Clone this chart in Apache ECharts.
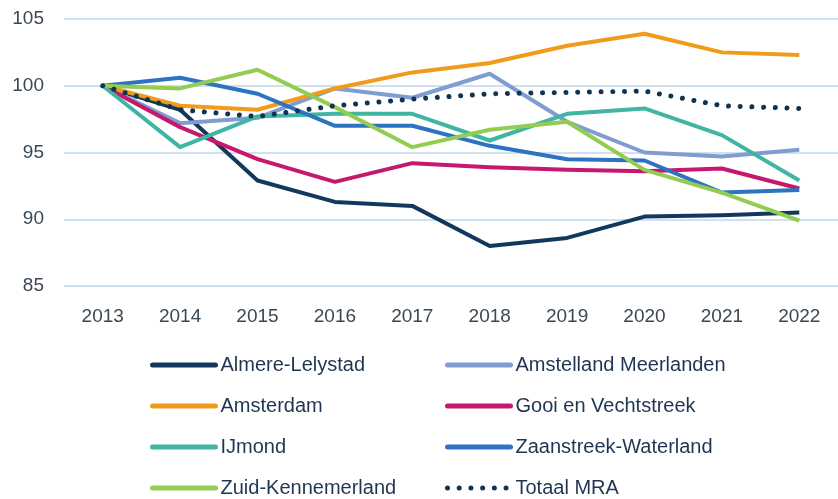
<!DOCTYPE html>
<html>
<head>
<meta charset="utf-8">
<title>MRA</title>
<script src="https://cdn.jsdelivr.net/npm/echarts@6/dist/echarts.min.js"></script>
<style>
  html, body { margin: 0; padding: 0; background: #fff; }
  #chart { width: 838px; height: 499px; }
</style>
</head>
<body>
<div id="chart"></div>
<script>
// data (index, 2013 = 100)
var years = ['2013', '2014', '2015', '2016', '2017', '2018', '2019', '2020', '2021', '2022']
var almereLelystad = [100, 98.2, 92.9, 91.3, 91.0, 88.0, 88.6, 90.2, 90.3, 90.5]
var amstellandMeerlanden = [100, 97.2, 97.6, 99.8, 99.1, 100.9, 97.3, 95.0, 94.7, 95.2]
var amsterdam = [100, 98.5, 98.2, 99.8, 101.0, 101.7, 103.0, 103.9, 102.5, 102.3]
var gooiVechtstreek = [100, 96.9, 94.5, 92.8, 94.2, 93.9, 93.7, 93.6, 93.8, 92.3]
var ijmond = [100, 95.4, 97.7, 97.9, 97.9, 95.9, 97.9, 98.3, 96.3, 92.9]
var zaanstreekWaterland = [100, 100.6, 99.4, 97.0, 97.0, 95.5, 94.5, 94.4, 92.0, 92.2]
var zuidKennemerland = [100, 99.8, 101.2, 98.4, 95.4, 96.7, 97.3, 93.7, 92.0, 89.9]
var totaalMRA = [100, 98.2, 97.7, 98.5, 99.0, 99.4, 99.5, 99.6, 98.5, 98.3]

var chart = echarts.init(document.getElementById('chart'))

function line(name, data, color) {
  return {
    name: name,
    type: 'line',
    data: data,
    symbol: 'none',
    animation: false,
    color: color,
    lineStyle: { color: color, width: 4, join: 'round' }
  }
}

var legendText = {
  color: '#1f3552',
  fontSize: 20,
  fontFamily: 'Liberation Sans',
  lineHeight: 20
}

var series = [
  line('Almere-Lelystad', almereLelystad, '#12395d'),
  line('Amstelland Meerlanden', amstellandMeerlanden, '#7f9dd0'),
  line('Amsterdam', amsterdam, '#f09b1c'),
  line('Gooi en Vechtstreek', gooiVechtstreek, '#c6186c'),
  line('IJmond', ijmond, '#40b5a3'),
  line('Zaanstreek-Waterland', zaanstreekWaterland, '#2e72c2'),
  line('Zuid-Kennemerland', zuidKennemerland, '#92cc50')
]
var totaal = line('Totaal MRA', totaalMRA, '#0f3352')
totaal.lineStyle = { color: '#0f3352', width: 5, type: [0.01, 11.7], cap: 'round' }
series.push(totaal)

var legendBase = {
  orient: 'vertical',
  top: 355,
  padding: 0,
  itemWidth: 63,
  itemHeight: 20,
  itemGap: 21,
  itemStyle: { opacity: 0 },
  lineStyle: { width: 5, cap: 'round' },
  textStyle: legendText
}

chart.setOption({
  grid: {
    left: 64,
    top: 19,
    width: 783,
    height: 267,
    containLabel: false
  },
  xAxis: {
    type: 'category',
    data: years,
    boundaryGap: true,
    axisLine: { show: false },
    axisTick: { show: false },
    axisLabel: {
      margin: 21,
      color: '#3b4754',
      fontSize: 19,
      fontFamily: 'Liberation Sans'
    }
  },
  yAxis: {
    type: 'value',
    min: 85,
    max: 105,
    interval: 5,
    axisLine: { show: false },
    axisTick: { show: false },
    axisLabel: {
      margin: 20,
      color: '#3b4754',
      fontSize: 19,
      fontFamily: 'Liberation Sans'
    },
    splitLine: { lineStyle: { color: '#cfe0ee', width: 2 } }
  },
  legend: [
    Object.assign({}, legendBase, {
      left: 150,
      data: ['Almere-Lelystad', 'Amsterdam', 'IJmond', 'Zuid-Kennemerland']
    }),
    Object.assign({}, legendBase, {
      left: 445,
      data: ['Amstelland Meerlanden', 'Gooi en Vechtstreek', 'Zaanstreek-Waterland', 'Totaal MRA']
    })
  ],
  series: series
})
</script>
</body>
</html>
